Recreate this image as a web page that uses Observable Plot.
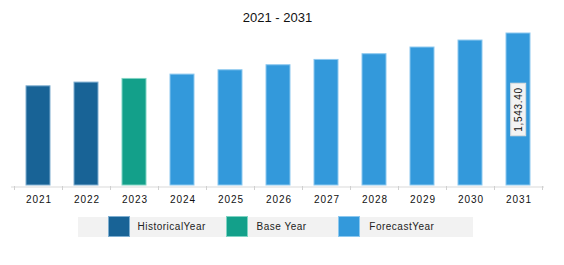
<!DOCTYPE html>
<html><head><meta charset="utf-8">
<script src="https://cdn.jsdelivr.net/npm/d3@7"></script>
<script src="https://cdn.jsdelivr.net/npm/@observablehq/plot@0.6"></script>
<style>
body{margin:0;background:#fff;font-family:"Liberation Sans",Arial,sans-serif;}
#title{width:533px;margin-left:11px;height:16px;padding-top:10px;line-height:16px;font-size:13px;text-align:center;color:#111;}
#legend{position:relative;margin-left:78px;margin-top:5px;width:395px;height:20px;background:#f2f2f2;font-size:10px;letter-spacing:0.5px;color:#222;}
.sw{position:absolute;top:-1px;width:22px;height:21px;}
.lt{position:absolute;top:0;line-height:20px;white-space:nowrap;}
</style></head>
<body>
<div id="title">2021 - 2031</div>
<div id="chart"></div>
<div id="legend"></div>
<script>
const years = ["2021","2022","2023","2024","2025","2026","2027","2028","2029","2030","2031"];
const values = [1007, 1045, 1082, 1126, 1170, 1221, 1275, 1333, 1401, 1472, 1543.40];
const types = ["Historical","Historical","Base","Forecast","Forecast","Forecast","Forecast","Forecast","Forecast","Forecast","Forecast"];
const legendLabels = ["HistoricalYear","Base Year","ForecastYear"];
const typeKeys = ["Historical","Base","Forecast"];
const fills = {Historical:"#186396", Base:"#13a08a", Forecast:"#3399db"};
const strokes = {Historical:"#7eaed0", Base:"#7fd3c3", Forecast:"#8cc8ef"};
const labelIndex = [10];

const data = years.map((y,i)=>({year:y, value:values[i], type:types[i]}));
const fmt = d3.format(",.2f");

const chart = Plot.plot({
  width:564, height:186,
  marginTop:7, marginBottom:27, marginLeft:11, marginRight:20,
  style:{fontFamily:"Liberation Sans, Arial, sans-serif", fontSize:"10px", color:"#111", background:"#fff"},
  x:{domain:years, paddingInner:0.5, paddingOuter:0.25},
  y:{domain:[0,1543.40], axis:null},
  marks:[
    Plot.barY(data,{x:"year", y:"value", fill:d=>fills[d.type], stroke:d=>strokes[d.type], strokeWidth:1}),
    Plot.ruleY([0],{stroke:"#d9d9d9", strokeWidth:1, dy:1.5}),
    Plot.axisX({tickSize:0, tickPadding:10, label:null, fontSize:10, fill:"#111", className:"xticks"}),
    Plot.text(labelIndex.map(i=>data[i]),{x:"year", y:d=>d.value/2, text:d=>fmt(d.value), rotate:-90, fontSize:10, fill:"#111", className:"vlabel"})
  ]
});
document.getElementById("chart").appendChild(chart);

const svg = d3.select(chart);
svg.selectAll("g.xticks text").attr("letter-spacing","1").attr("dx","0.5");

// tick marks at band boundaries, from the x scale
const xs = chart.scale("x");
const y0 = chart.scale("y").apply(0);
const bounds = years.map(y=>xs.apply(y) + xs.bandwidth/2 - xs.step/2);
bounds.push(xs.apply(years[years.length-1]) + xs.bandwidth/2 + xs.step/2);
svg.append("g").selectAll("line").data(bounds).join("line")
  .attr("x1",d=>Math.round(d)+0.5).attr("x2",d=>Math.round(d)+0.5)
  .attr("y1",y0+1).attr("y2",y0+5).attr("stroke","#d0d0d0");

// label boxes
svg.selectAll("g.vlabel text").each(function(){
  this.setAttribute("letter-spacing","0.7");
  const b = this.getBBox();
  const g = this.parentNode;
  const r = document.createElementNS("http://www.w3.org/2000/svg","rect");
  const padX = 4, padY = 2;
  r.setAttribute("x", b.x - padX); r.setAttribute("y", b.y - padY);
  r.setAttribute("width", b.width + 2*padX); r.setAttribute("height", b.height + 2*padY);
  r.setAttribute("fill","#f3f3f3"); r.setAttribute("stroke","#dddddd");
  if (this.getAttribute("transform")) r.setAttribute("transform", this.getAttribute("transform"));
  g.insertBefore(r, this);
});

// legend
const lg = document.getElementById("legend");
const swX = [29.5, 148, 260.3];
const txX = [59.5, 178.5, 291.3];
typeKeys.forEach((k,i)=>{
  const s = document.createElement("div"); s.className="sw"; s.style.left=swX[i]+"px"; s.style.background=fills[k];
  s.style.boxShadow = "inset 0 0 0 1px "+strokes[k];
  lg.appendChild(s);
  const t = document.createElement("div"); t.className="lt"; t.style.left=txX[i]+"px"; t.textContent=legendLabels[i];
  lg.appendChild(t);
});
</script>
</body></html>
